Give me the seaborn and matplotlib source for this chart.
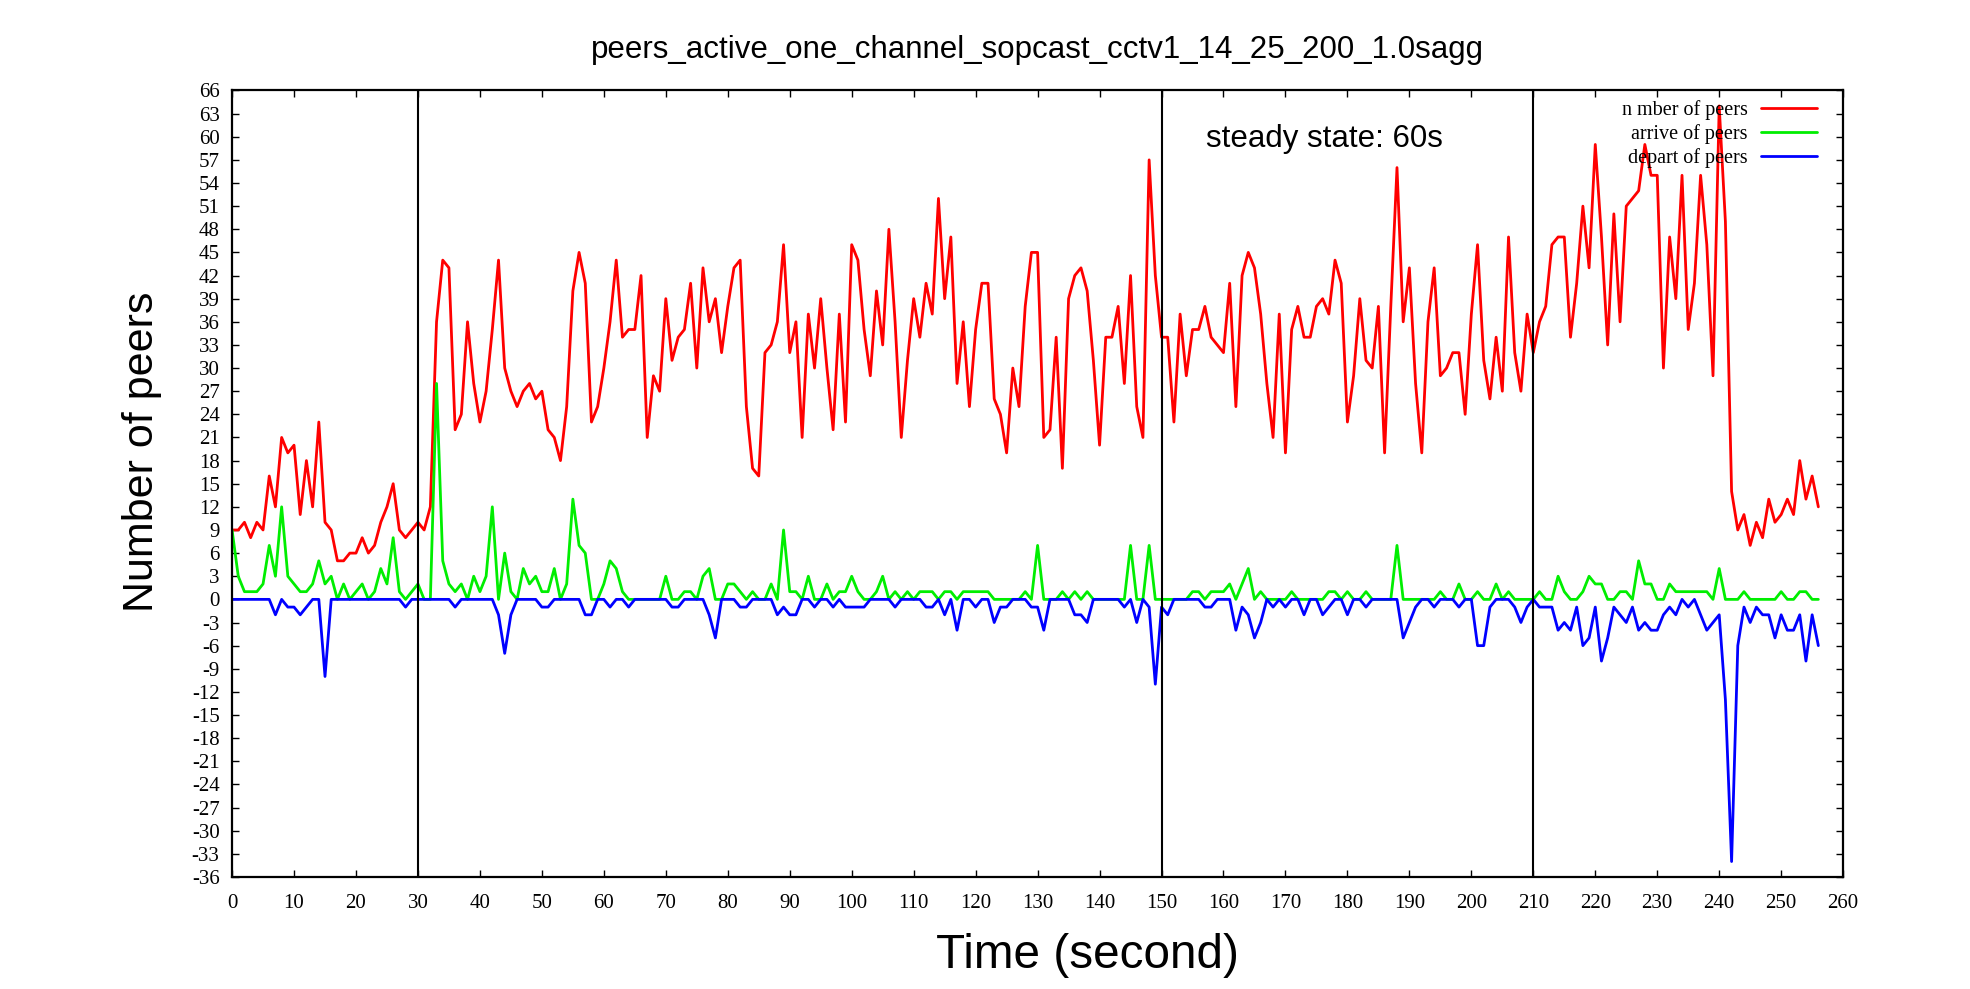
import matplotlib
matplotlib.use('Agg')
import pandas as pd
import matplotlib.pyplot as plt
import seaborn as sns

# seconds since start, one sample per second
seconds = list(range(0, 257))

number_of_peers = [
    9, 9, 10, 8, 10, 9, 16, 12, 21, 19,
    20, 11, 18, 12, 23, 10, 9, 5, 5, 6,
    6, 8, 6, 7, 10, 12, 15, 9, 8, 9,
    10, 9, 12, 36, 44, 43, 22, 24, 36, 28,
    23, 27, 35, 44, 30, 27, 25, 27, 28, 26,
    27, 22, 21, 18, 25, 40, 45, 41, 23, 25,
    30, 36, 44, 34, 35, 35, 42, 21, 29, 27,
    39, 31, 34, 35, 41, 30, 43, 36, 39, 32,
    38, 43, 44, 25, 17, 16, 32, 33, 36, 46,
    32, 36, 21, 37, 30, 39, 30, 22, 37, 23,
    46, 44, 35, 29, 40, 33, 48, 36, 21, 31,
    39, 34, 41, 37, 52, 39, 47, 28, 36, 25,
    35, 41, 41, 26, 24, 19, 30, 25, 38, 45,
    45, 21, 22, 34, 17, 39, 42, 43, 40, 31,
    20, 34, 34, 38, 28, 42, 25, 21, 57, 42,
    34, 34, 23, 37, 29, 35, 35, 38, 34, 33,
    32, 41, 25, 42, 45, 43, 37, 28, 21, 37,
    19, 35, 38, 34, 34, 38, 39, 37, 44, 41,
    23, 29, 39, 31, 30, 38, 19, 38, 56, 36,
    43, 28, 19, 36, 43, 29, 30, 32, 32, 24,
    37, 46, 31, 26, 34, 27, 47, 32, 27, 37,
    32, 36, 38, 46, 47, 47, 34, 41, 51, 43,
    59, 47, 33, 50, 36, 51, 52, 53, 59, 55,
    55, 30, 47, 39, 55, 35, 41, 55, 46, 29,
    64, 49, 14, 9, 11, 7, 10, 8, 13, 10,
    11, 13, 11, 18, 13, 16, 12,
]

arrive_of_peers = [
    9, 3, 1, 1, 1, 2, 7, 3, 12, 3,
    2, 1, 1, 2, 5, 2, 3, 0, 2, 0,
    1, 2, 0, 1, 4, 2, 8, 1, 0, 1,
    2, 0, 0, 28, 5, 2, 1, 2, 0, 3,
    1, 3, 12, 0, 6, 1, 0, 4, 2, 3,
    1, 1, 4, 0, 2, 13, 7, 6, 0, 0,
    2, 5, 4, 1, 0, 0, 0, 0, 0, 0,
    3, 0, 0, 1, 1, 0, 3, 4, 0, 0,
    2, 2, 1, 0, 1, 0, 0, 2, 0, 9,
    1, 1, 0, 3, 0, 0, 2, 0, 1, 1,
    3, 1, 0, 0, 1, 3, 0, 1, 0, 1,
    0, 1, 1, 1, 0, 1, 1, 0, 1, 1,
    1, 1, 1, 0, 0, 0, 0, 0, 1, 0,
    7, 0, 0, 0, 1, 0, 1, 0, 1, 0,
    0, 0, 0, 0, 0, 7, 0, 0, 7, 0,
    0, 0, 0, 0, 0, 1, 1, 0, 1, 1,
    1, 2, 0, 2, 4, 0, 1, 0, 0, 0,
    0, 1, 0, 0, 0, 0, 0, 1, 1, 0,
    1, 0, 0, 1, 0, 0, 0, 0, 7, 0,
    0, 0, 0, 0, 0, 1, 0, 0, 2, 0,
    0, 1, 0, 0, 2, 0, 1, 0, 0, 0,
    0, 1, 0, 0, 3, 1, 0, 0, 1, 3,
    2, 2, 0, 0, 1, 1, 0, 5, 2, 2,
    0, 0, 2, 1, 1, 1, 1, 1, 1, 0,
    4, 0, 0, 0, 1, 0, 0, 0, 0, 0,
    1, 0, 0, 1, 1, 0, 0,
]

depart_of_peers = [
    0, 0, 0, 0, 0, 0, 0, -2, 0, -1,
    -1, -2, -1, 0, 0, -10, 0, 0, 0, 0,
    0, 0, 0, 0, 0, 0, 0, 0, -1, 0,
    0, 0, 0, 0, 0, 0, -1, 0, 0, 0,
    0, 0, 0, -2, -7, -2, 0, 0, 0, 0,
    -1, -1, 0, 0, 0, 0, 0, -2, -2, 0,
    0, -1, 0, 0, -1, 0, 0, 0, 0, 0,
    0, -1, -1, 0, 0, 0, 0, -2, -5, 0,
    0, 0, -1, -1, 0, 0, 0, 0, -2, -1,
    -2, -2, 0, 0, -1, 0, 0, -1, 0, -1,
    -1, -1, -1, 0, 0, 0, 0, -1, 0, 0,
    0, 0, -1, -1, 0, -2, 0, -4, 0, 0,
    -1, 0, 0, -3, -1, -1, 0, 0, 0, -1,
    -1, -4, 0, 0, 0, 0, -2, -2, -3, 0,
    0, 0, 0, 0, -1, 0, -3, 0, -1, -11,
    -1, -2, 0, 0, 0, 0, 0, -1, -1, 0,
    0, 0, -4, -1, -2, -5, -3, 0, -1, 0,
    -1, 0, 0, -2, 0, 0, -2, -1, 0, 0,
    -2, 0, 0, -1, 0, 0, 0, 0, 0, -5,
    -3, -1, 0, 0, -1, 0, 0, 0, -1, 0,
    0, -6, -6, -1, 0, 0, 0, -1, -3, -1,
    0, -1, -1, -1, -4, -3, -4, -1, -6, -5,
    -1, -8, -5, -1, -2, -3, -1, -4, -3, -4,
    -4, -2, -1, -2, 0, -1, 0, -2, -4, -3,
    -2, -13, -34, -6, -1, -3, -1, -2, -2, -5,
    -2, -4, -4, -2, -8, -2, -6,
]

phase_marks = [30, 150, 210]
x_ticks = list(range(0, 261, 10))
y_ticks = list(range(-36, 67, 3))

df = pd.DataFrame({
    'time': seconds,
    'number': number_of_peers,
    'arrive': arrive_of_peers,
    'depart': depart_of_peers,
})

sns.set_style('ticks')
plt.rcParams['font.family'] = ['Liberation Serif', 'DejaVu Serif']
plt.rcParams['axes.unicode_minus'] = False
plt.rcParams['text.color'] = 'black'
plt.rcParams['axes.labelcolor'] = 'black'
plt.rcParams['xtick.color'] = 'black'
plt.rcParams['ytick.color'] = 'black'

fig = plt.figure(figsize=(19.7, 9.89), dpi=100)
ax = fig.add_axes([0.1178, 0.1133, 0.8178, 0.7952])

sns.lineplot(data=df, x='time', y='number', color='#ff0000', lw=2, label='n mber of peers', ax=ax)
sns.lineplot(data=df, x='time', y='arrive', color='#00ee00', lw=2, label='arrive of peers', ax=ax)
sns.lineplot(data=df, x='time', y='depart', color='#0000ff', lw=2, label='depart of peers', ax=ax)

for m in phase_marks:
    ax.axvline(m, color='black', lw=1.5)

ax.set_xlim(0, 260)
ax.set_ylim(-36, 66)
ax.set_xticks(x_ticks)
ax.set_yticks(y_ticks)
ax.tick_params(direction='in', length=5, width=1, top=True, right=True, labelsize=15)
ax.tick_params(axis='x', pad=12)
ax.tick_params(axis='y', pad=9)
for s in ax.spines.values():
    s.set_linewidth(1.6)
    s.set_color('black')

sans = ['Liberation Sans', 'DejaVu Sans']
ax.set_xlabel('Time (second)', fontsize=34.3, family=sans)
ax.xaxis.set_label_coords(0.531, -0.100)
ax.xaxis.label.set_va('center')
ax.set_ylabel('Number of peers', fontsize=31, family=sans)
ax.yaxis.set_label_coords(-0.0558, 0.540)
ax.yaxis.label.set_va('center')

ax.set_title('peers_active_one_channel_sopcast_cctv1_14_25_200_1.0sagg',
             fontsize=22.5, family=sans, y=1.051, pad=0, va='center')
ax.text(157.2, 59.7, 'steady state: 60s', fontsize=22.5, family=sans, va='center')

ax.legend(loc='upper right', bbox_to_anchor=(0.984, 0.988), markerfirst=False,
          frameon=False, fontsize=14.5, handlelength=2.8, handletextpad=0.65,
          labelspacing=0.2, borderpad=0, borderaxespad=0)

fig.savefig('out.png', dpi=100)
